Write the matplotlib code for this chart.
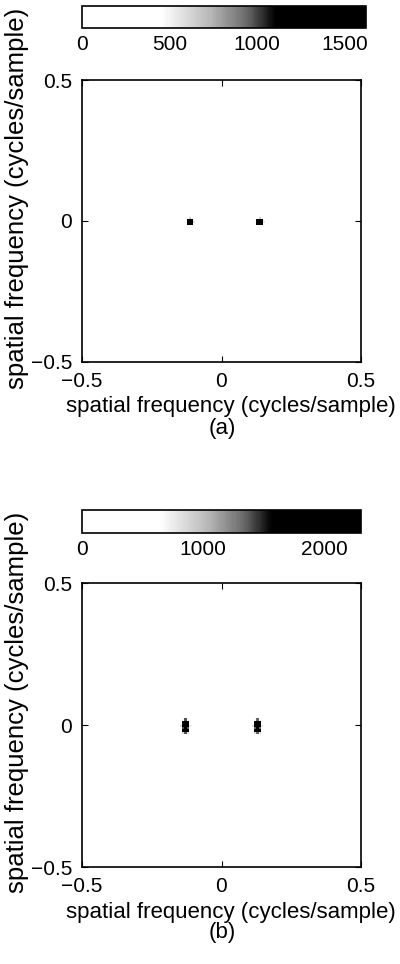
import numpy as np
import matplotlib
matplotlib.use('Agg')
import matplotlib.pyplot as plt
from matplotlib.colors import LinearSegmentedColormap

plt.rcParams['font.family'] = ['Liberation Sans', 'DejaVu Sans']

# dados: posicao dos picos (frequencia espacial) e amplitude
n_grid = 128
peaks_fx_a = [-0.117, 0.133]
peaks_fy_a = [-0.01, -0.01]
peaks_amp_a = [1600, 1580]
vmax_a = 1620
cbar_ticks_a = [0, 500, 1000, 1500]

peaks_fx_b = [-0.13, 0.125]
peaks_fy_b = [-0.005, -0.005]
peaks_amp_b = [2300, 2250]
vmax_b = 2306
cbar_ticks_b = [0, 1000, 2000]

axis_ticks = [-0.5, 0, 0.5]
axis_labels = ['\u22120.5', '0', '0.5']
label_text = 'spatial frequency (cycles/sample)'
panel_names = ['(a)', '(b)']

# forma de cada pico (relativa ao maximo)
kernel_a = np.array([
    [0.0, 0.15, 0.3, 0.15, 0.0],
    [0.2, 0.8, 1.0, 0.8, 0.25],
    [0.3, 1.0, 1.0, 1.0, 0.35],
    [0.15, 0.8, 0.9, 0.8, 0.2],
    [0.0, 0.2, 0.4, 0.15, 0.0],
])
kernel_b = np.array([
    [0.0, 0.35, 0.6, 0.35, 0.0],
    [0.0, 0.9, 1.0, 0.8, 0.0],
    [0.25, 0.6, 0.9, 0.6, 0.25],
    [0.35, 1.0, 1.0, 1.0, 0.35],
    [0.2, 0.7, 0.9, 0.7, 0.2],
    [0.0, 0.9, 1.0, 0.9, 0.0],
    [0.0, 0.3, 0.6, 0.3, 0.0],
])

cmap = LinearSegmentedColormap.from_list(
    'halftone', [(0, 'white'), (0.28, 'white'), (0.45, '#b8b8b8'),
                 (0.58, '#6a6a6a'), (0.68, 'black'), (1, 'black')])


def build_image(fx, fy, amp, kernel):
    img = np.zeros((n_grid, n_grid))
    kh, kw = kernel.shape
    for x, y, a in zip(fx, fy, amp):
        ix = int(round((x + 0.5) * n_grid))
        iy = int(round((y + 0.5) * n_grid))
        img[iy - kh // 2:iy - kh // 2 + kh, ix - kw // 2:ix - kw // 2 + kw] = a * kernel
    return img


fig = plt.figure(figsize=(4.0, 9.64), dpi=100)

panels = [
    (peaks_fx_a, peaks_fy_a, peaks_amp_a, kernel_a, vmax_a, cbar_ticks_a,
     [0.205, 0.6245, 0.6975, 0.2925], [0.205, 0.971, 0.71, 0.023], 0.545),
    (peaks_fx_b, peaks_fy_b, peaks_amp_b, kernel_b, vmax_b, cbar_ticks_b,
     [0.205, 0.1006, 0.6975, 0.2946], [0.205, 0.447, 0.6975, 0.024], 0.022),
]

for k, (fx, fy, amp, kern, vmax, cticks, ax_rect, cb_rect, ty) in enumerate(panels):
    ax = fig.add_axes(ax_rect)
    img = build_image(fx, fy, amp, kern)
    im = ax.imshow(img, cmap=cmap, vmin=0, vmax=vmax, origin='lower',
                   extent=(-0.5, 0.5, -0.5, 0.5), aspect='auto',
                   interpolation='nearest')
    ax.set_xticks(axis_ticks)
    ax.set_xticklabels(axis_labels)
    ax.set_yticks(axis_ticks)
    ax.set_yticklabels(axis_labels)
    ax.tick_params(direction='in', length=4, top=True, right=True,
                   labelsize=15, pad=7)
    for s in ax.spines.values():
        s.set_linewidth(1.2)
    ax.set_xlabel(label_text, fontsize=16)
    ax.xaxis.set_label_coords(0.532, -0.122)
    ax.set_ylabel(label_text, fontsize=18.5)
    ax.yaxis.set_label_coords(-0.19, 0.58)

    cax = fig.add_axes(cb_rect)
    cb = fig.colorbar(im, cax=cax, orientation='horizontal', ticks=cticks)
    cb.ax.tick_params(length=0, labelsize=15, pad=5)
    cb.outline.set_linewidth(1.2)

    fig.text(0.555, ty, panel_names[k], ha='center', va='bottom', fontsize=16)

fig.savefig('out.png', dpi=100)
